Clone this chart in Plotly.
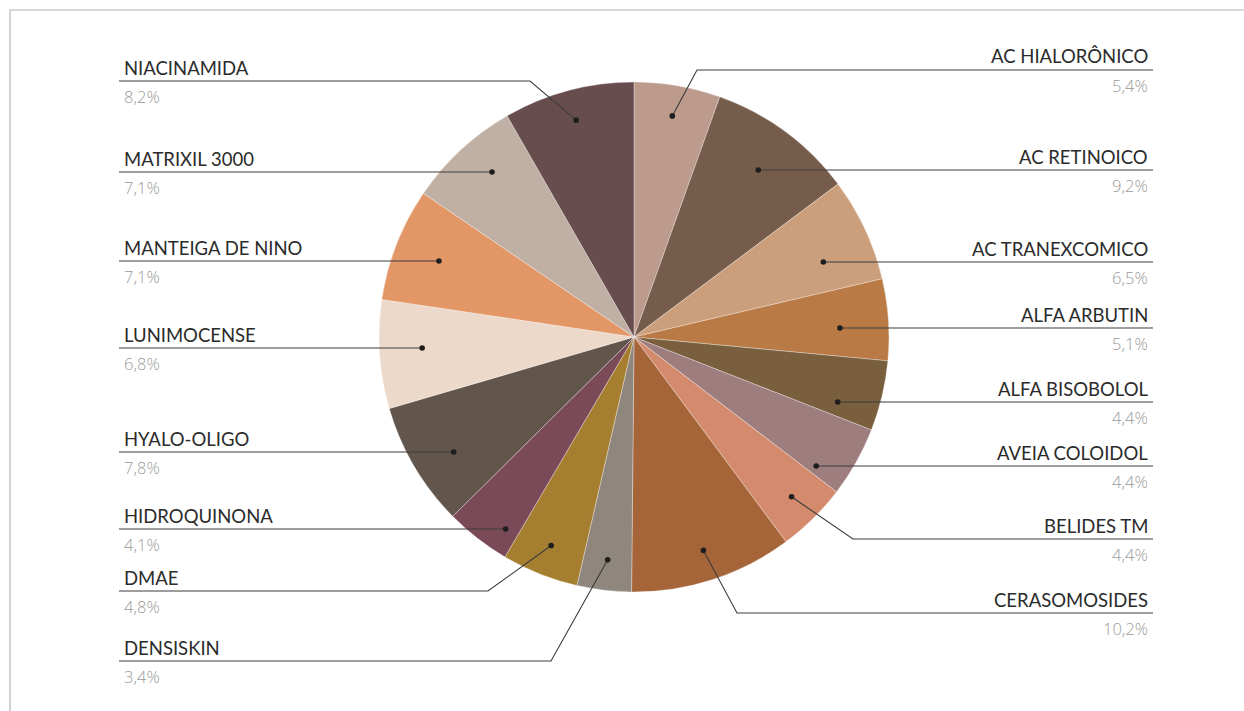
import math
import plotly.graph_objects as go

# ---------------- data ----------------
labels = ["AC HIALORÔNICO", "AC RETINOICO", "AC TRANEXCOMICO", "ALFA ARBUTIN",
          "ALFA BISOBOLOL", "AVEIA COLOIDOL", "BELIDES TM", "CERASOMOSIDES",
          "DENSISKIN", "DMAE", "HIDROQUINONA", "HYALO-OLIGO", "LUNIMOCENSE",
          "MANTEIGA DE NINO", "MATRIXIL 3000", "NIACINAMIDA"]
values = [5.4, 9.2, 6.5, 5.1, 4.4, 4.4, 4.4, 10.2,
          3.4, 4.8, 4.1, 7.8, 6.8, 7.1, 7.1, 8.2]
colors = ["#bc9a8c", "#765c4b", "#cb9f7c", "#b97a45", "#7a5f3e", "#9e7d7e",
          "#d48b6d", "#a66539", "#8f867d", "#a67e30", "#7b4a58", "#62554b",
          "#ecd9c9", "#e39766", "#c0b0a4", "#684d4f"]

# ---------------- layout (pixels) ----------------
W, H = 1244, 711
CX, CY, R = 634, 337, 255
label_side = ["R"] * 8 + ["L"] * 8
label_line_y = [70, 170, 262, 328, 402, 466, 539, 613,
                661, 591, 529, 452, 348, 261, 172, 81]
label_elbow_x = [697, None, None, None, None, None, 853, 737,
                 551, 488, None, None, None, None, None, 530]
RIGHT_END, LEFT_START = 1153, 119


def px(x):
    return x / W


def py(y):
    return 1 - y / H


total = sum(values)
fig = go.Figure()
fig.add_trace(go.Pie(
    labels=labels, values=values, sort=False, direction="clockwise", rotation=0,
    marker=dict(colors=colors, line=dict(color="rgba(255,255,255,0.55)", width=0.6)),
    textinfo="none", hoverinfo="label+percent", showlegend=False,
    domain=dict(x=[px(CX - R), px(CX + R)], y=[py(CY + R), py(CY - R)]),
))

shapes = []
annotations = []
# frame
shapes.append(dict(type="path", xref="paper", yref="paper",
                   path=f"M {px(10)},{py(711)} L {px(10)},{py(10)} L {px(1244)},{py(10)}",
                   line=dict(color="#b4b4b4", width=1.2), layer="above"))

NAME_FONT = dict(family="Lato, 'Open Sans', sans-serif", size=18.5, color="#2b2b2b")
PCT_FONT = dict(family="'Open Sans', Lato, sans-serif", size=16.5, color="#9a9a9a",
                weight=300)

cum = 0.0
for i, (lab, v) in enumerate(zip(labels, values)):
    a0 = cum / total * 360
    cum += v
    a1 = cum / total * 360
    mid = (a0 + a1) / 2
    ly = label_line_y[i]
    side = label_side[i]
    elbow = label_elbow_x[i]

    def pt(theta, r):
        t = math.radians(theta)
        return CX + r * math.sin(t), CY - r * math.cos(t)

    if elbow is None:
        tx, ty = pt(mid, 0.82 * R)
        best = None
        span = a1 - a0
        n = 200
        for k in range(n + 1):
            th = a0 + span * (0.12 + 0.76 * k / n)
            c = math.cos(math.radians(th))
            if abs(c) < 1e-6:
                continue
            r = (CY - ly) / c
            if r < 0.62 * R or r > 0.93 * R:
                continue
            x, y = pt(th, r)
            d = (x - tx) ** 2 + (y - ty) ** 2
            if best is None or d < best[0]:
                best = (d, x, y)
        dx, dy = best[1], ly
        if side == "R":
            path = f"M {px(dx)},{py(dy)} L {px(RIGHT_END)},{py(ly)}"
        else:
            path = f"M {px(dx)},{py(dy)} L {px(LEFT_START)},{py(ly)}"
    else:
        dx, dy = pt(mid, 0.88 * R)
        end = RIGHT_END if side == "R" else LEFT_START
        path = (f"M {px(dx)},{py(dy)} L {px(elbow)},{py(ly)} "
                f"L {px(end)},{py(ly)}")

    shapes.append(dict(type="path", xref="paper", yref="paper", path=path,
                       line=dict(color="#3c3c3c", width=1.1), layer="above"))
    shapes.append(dict(type="circle", xref="paper", yref="paper",
                       x0=px(dx - 2.8), x1=px(dx + 2.8), y0=py(dy + 2.8), y1=py(dy - 2.8),
                       fillcolor="#1e1e1e", line=dict(width=0), layer="above"))

    pct = f"{v:.1f}".replace(".", ",") + "%"
    if side == "R":
        ax, anchor = px(1150), "right"
    else:
        ax, anchor = px(122), "left"
    annotations.append(dict(x=ax, y=py(ly - 13.5), xref="paper", yref="paper",
                            text=lab, showarrow=False, xanchor=anchor, yanchor="middle",
                            font=NAME_FONT))
    annotations.append(dict(x=ax, y=py(ly + 15.5), xref="paper", yref="paper",
                            text=pct, showarrow=False, xanchor=anchor, yanchor="middle",
                            font=PCT_FONT))

fig.update_layout(
    width=W, height=H, margin=dict(l=0, r=0, t=0, b=0),
    paper_bgcolor="white", plot_bgcolor="white",
    shapes=shapes, annotations=annotations, showlegend=False,
)
fig.write_html("out.html")
